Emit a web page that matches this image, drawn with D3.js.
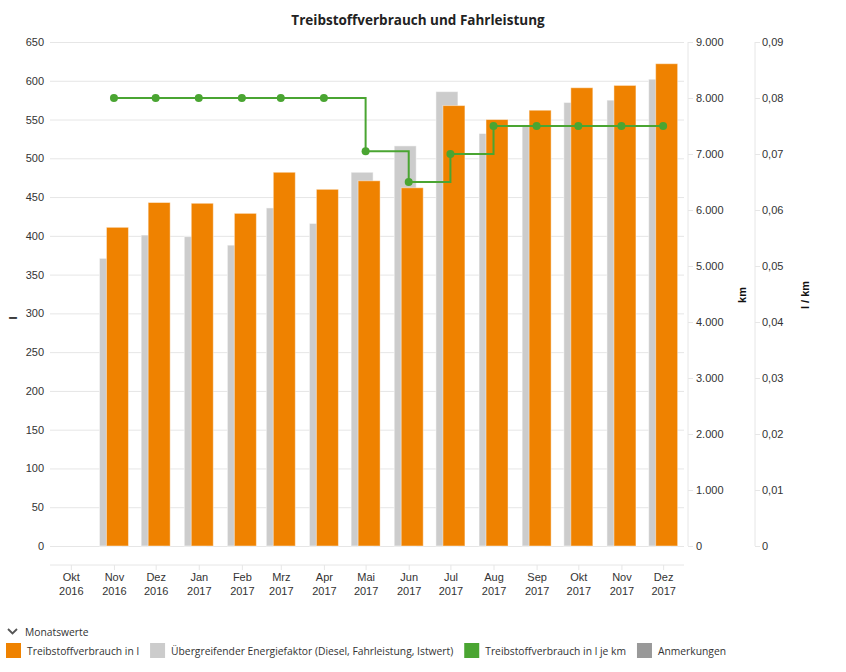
<!DOCTYPE html>
<html><head><meta charset="utf-8">
<script src="https://cdn.jsdelivr.net/npm/d3@7"></script>
<style>
body{margin:0;background:#fff;}
svg{display:block;}
</style></head>
<body>
<svg id="chart" width="846" height="672"></svg>
<script>
const months = ["2016-10","2016-11","2016-12","2017-01","2017-02","2017-03","2017-04","2017-05","2017-06","2017-07","2017-08","2017-09","2017-10","2017-11","2017-12"];
const monthLabels = ["Okt","Nov","Dez","Jan","Feb","Mrz","Apr","Mai","Jun","Jul","Aug","Sep","Okt","Nov","Dez"];
const yearLabels = ["2016","2016","2016","2017","2017","2017","2017","2017","2017","2017","2017","2017","2017","2017","2017"];
// values per month (null = no data)
const verbrauch = [null,411,443,442,429,482,460,471,462,568,550,562,591,594,622];
const energiefaktor = [null,371,401,399,388,436,416,482,516,586,532,543,572,575,602];
const verbrauchJeKm = [null,0.08,0.08,0.08,0.08,0.08,0.08,0.0705,0.065,0.07,0.075,0.075,0.075,0.075,0.075];
const leftTicks = [0,50,100,150,200,250,300,350,400,450,500,550,600,650];
const kmTicks = [0,1000,2000,3000,4000,5000,6000,7000,8000,9000];
const lkmTicks = [0,0.01,0.02,0.03,0.04,0.05,0.06,0.07,0.08,0.09];
const legendItems = [
  {name:"Treibstoffverbrauch in l", color:"#EF8200"},
  {name:"Übergreifender Energiefaktor (Diesel, Fahrleistung, Istwert)", color:"#CCCCCC"},
  {name:"Treibstoffverbrauch in l je km", color:"#4AA532"},
  {name:"Anmerkungen", color:"#999999"}
];

const svg = d3.select("#chart");
const parse = d3.timeParse("%Y-%m");
const dates = months.map(parse);
const axisFont = "'Liberation Sans', Arial, sans-serif";
const uiFont = "'Open Sans', 'Noto Sans', sans-serif";

const plotL = 50, plotR = 684, plotT = 42, plotB = 546;
const x = d3.scaleTime().domain([new Date(2016,8,16), new Date(2017,11,16)]).range([plotL, plotR]);
const y = d3.scaleLinear().domain([0,650]).range([plotB, plotT]);
const yKm = d3.scaleLinear().domain([0,9000]).range([plotB, plotT]);
const yLkm = d3.scaleLinear().domain([0,0.09]).range([plotB, plotT]);

// title
svg.append("text").attr("x",418).attr("y",25).attr("text-anchor","middle")
  .attr("font-family",uiFont).attr("font-weight","bold").attr("font-size","13.5px").attr("fill","#222")
  .text("Treibstoffverbrauch und Fahrleistung");

// gridlines + left axis
const gLeft = svg.append("g").attr("transform",`translate(${plotL},0)`)
  .call(d3.axisLeft(y).tickValues(leftTicks).tickSize(-(plotR-plotL)).tickPadding(6).tickFormat(d3.format("d")));
gLeft.select(".domain").remove();
gLeft.selectAll(".tick line").attr("stroke","#e6e6e6");
gLeft.selectAll(".tick text").attr("font-family",axisFont).attr("font-size","11px").attr("fill","#333");

// x axis
const gX = svg.append("g").attr("transform",`translate(0,565)`)
  .call(d3.axisBottom(x).tickValues(dates).tickSize(5).tickFormat(""));
gX.select(".domain").attr("d",`M${plotL},0H${plotR}`).attr("stroke","#e6e6e6");
gX.selectAll(".tick line").attr("stroke","#e6e6e6");
gX.selectAll(".tick").each(function(d,i){
  const t = d3.select(this).append("text").attr("text-anchor","middle")
    .attr("font-family",axisFont).attr("font-size","11px").attr("fill","#333");
  t.append("tspan").attr("x",0).attr("y",16).text(monthLabels[i]);
  t.append("tspan").attr("x",0).attr("y",30).text(yearLabels[i]);
});

// right axes
const locale = d3.formatLocale({decimal:",", thousands:".", grouping:[3], currency:["","€"]});
const gKm = svg.append("g").attr("transform",`translate(688,0)`)
  .call(d3.axisRight(yKm).tickValues(kmTicks).tickSize(5).tickPadding(3).tickFormat(locale.format(",d")));
gKm.select(".domain").attr("stroke","#e6e6e6").attr("d",`M0,${plotT}V${plotB}`);
gKm.selectAll(".tick line").attr("stroke","#e6e6e6");
gKm.selectAll(".tick text").attr("font-family",axisFont).attr("font-size","11px").attr("fill","#333");

const gLkm = svg.append("g").attr("transform",`translate(755,0)`)
  .call(d3.axisRight(yLkm).tickValues(lkmTicks).tickSize(5).tickPadding(2).tickFormat(d=> d===0 ? "0" : locale.format(".2f")(d)));
gLkm.select(".domain").attr("stroke","#e6e6e6").attr("d",`M0,${plotT}V${plotB}`);
gLkm.selectAll(".tick line").attr("stroke","#e6e6e6");
gLkm.selectAll(".tick text").attr("font-family",axisFont).attr("font-size","11px").attr("fill","#333");

// axis titles
function vTitle(tx, ty, txt){
  svg.append("text").attr("transform",`translate(${tx},${ty}) rotate(-90)`).attr("text-anchor","middle")
    .attr("font-family",axisFont).attr("font-weight","bold").attr("font-size","11px").attr("fill","#111").text(txt);
}
vTitle(17,318,"l");
vTitle(746,295,"km");
vTitle(809,295,"l / km");

// bars
const barW = 22, off = 3.5;
const barData = dates.map((d,i)=>({d, v:verbrauch[i], e:energiefaktor[i]}));
svg.append("g").selectAll("rect").data(barData.filter(b=>b.e!=null)).join("rect")
  .attr("x",b=>x(b.d)-off-barW/2).attr("width",barW)
  .attr("y",b=>y(b.e)).attr("height",b=>y(0)-y(b.e))
  .attr("fill","#CCCCCC").attr("stroke","rgba(255,255,255,0.5)").attr("stroke-width",1);
svg.append("g").selectAll("rect").data(barData.filter(b=>b.v!=null)).join("rect")
  .attr("x",b=>x(b.d)+off-barW/2).attr("width",barW)
  .attr("y",b=>y(b.v)).attr("height",b=>y(0)-y(b.v))
  .attr("fill","#EF8200").attr("stroke","rgba(255,255,255,0.45)").attr("stroke-width",1);

// step line
const lineData = dates.map((d,i)=>({d, v:verbrauchJeKm[i]})).filter(p=>p.v!=null);
svg.append("path").datum(lineData)
  .attr("d", d3.line().x(p=>x(p.d)).y(p=>yLkm(p.v)).curve(d3.curveStepAfter))
  .attr("fill","none").attr("stroke","#4AA532").attr("stroke-width",2);
svg.append("g").selectAll("circle").data(lineData).join("circle")
  .attr("cx",p=>x(p.d)).attr("cy",p=>yLkm(p.v)).attr("r",4).attr("fill","#4AA532");

// legend
svg.append("path").attr("d","M8,629 L12.5,633.5 L17,629").attr("fill","none").attr("stroke","#555").attr("stroke-width",1.8);
svg.append("text").attr("x",25).attr("y",636).attr("font-family",uiFont).attr("font-size","10.3px").attr("fill","#333").text("Monatswerte");
let lx = 6;
legendItems.forEach(it=>{
  svg.append("rect").attr("x",lx).attr("y",643).attr("width",15).attr("height",15).attr("fill",it.color);
  const t = svg.append("text").attr("x",lx+21).attr("y",655).attr("font-family",uiFont).attr("font-size","10.3px").attr("fill","#333").text(it.name);
  lx += 21 + t.node().getComputedTextLength() + 11;
});
</script>
</body></html>
